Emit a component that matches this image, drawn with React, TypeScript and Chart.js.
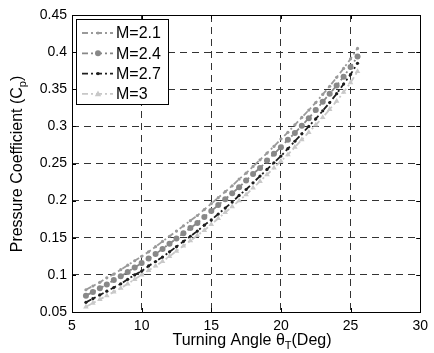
import React, { useEffect, useRef } from "react";
import { Chart, registerables } from "chart.js";

Chart.register(...registerables);

const angles = [6, 6.5, 7, 7.5, 8, 8.5, 9, 9.5, 10, 10.5, 11, 11.5, 12, 12.5, 13, 13.5, 14, 14.5, 15, 15.5, 16, 16.5, 17, 17.5, 18, 18.5, 19, 19.5, 20, 20.5, 21, 21.5, 22, 22.5, 23, 23.5, 24, 24.5, 25, 25.5];

const cpM21 = [0.080, 0.085, 0.090, 0.096, 0.101, 0.107, 0.113, 0.119, 0.125, 0.131, 0.138, 0.145, 0.152, 0.159, 0.166, 0.173, 0.180, 0.188, 0.196, 0.204, 0.212, 0.220, 0.229, 0.237, 0.246, 0.255, 0.264, 0.273, 0.283, 0.292, 0.302, 0.312, 0.322, 0.332, 0.343, 0.354, 0.366, 0.378, 0.391, 0.405];
const cpM24 = [0.072, 0.077, 0.082, 0.087, 0.093, 0.098, 0.104, 0.110, 0.116, 0.122, 0.128, 0.135, 0.142, 0.149, 0.156, 0.163, 0.170, 0.178, 0.186, 0.194, 0.202, 0.210, 0.218, 0.227, 0.236, 0.244, 0.254, 0.263, 0.272, 0.282, 0.291, 0.301, 0.311, 0.322, 0.333, 0.344, 0.355, 0.367, 0.380, 0.394];
const cpM27 = [0.063, 0.068, 0.073, 0.078, 0.083, 0.088, 0.094, 0.100, 0.105, 0.112, 0.118, 0.124, 0.131, 0.138, 0.145, 0.152, 0.159, 0.167, 0.174, 0.182, 0.190, 0.198, 0.207, 0.215, 0.224, 0.233, 0.242, 0.251, 0.260, 0.270, 0.280, 0.290, 0.300, 0.310, 0.321, 0.332, 0.344, 0.357, 0.370, 0.385];
const cpM30 = [0.057, 0.062, 0.067, 0.072, 0.077, 0.082, 0.088, 0.094, 0.100, 0.106, 0.112, 0.118, 0.125, 0.132, 0.139, 0.146, 0.153, 0.160, 0.168, 0.176, 0.184, 0.192, 0.200, 0.208, 0.217, 0.226, 0.235, 0.244, 0.253, 0.262, 0.272, 0.282, 0.292, 0.302, 0.312, 0.323, 0.334, 0.346, 0.359, 0.374];

const seriesLabels = ["M=2.1", "M=2.4", "M=2.7", "M=3"];
const xAxisRange = [5, 30];
const xStep = 5;
const yAxisRange = [0.05, 0.45];
const yStep = 0.05;

const FONT = '"Liberation Sans", Arial, sans-serif';

function drawMarker(ctx: CanvasRenderingContext2D, style: string, x: number, y: number, r: number, color: string) {
  ctx.save();
  ctx.fillStyle = color;
  ctx.setLineDash([]);
  ctx.beginPath();
  if (style === "triangle") {
    ctx.moveTo(x, y - r * 1.1);
    ctx.lineTo(x + r, y + r * 0.7);
    ctx.lineTo(x - r, y + r * 0.7);
    ctx.closePath();
  } else {
    ctx.arc(x, y, r, 0, Math.PI * 2);
  }
  ctx.fill();
  ctx.restore();
}

const framePlugin = {
  id: "matFrame",
  afterDatasetsDraw(chart: any) {
    const { ctx, chartArea } = chart;
    const { left, right, top, bottom } = chartArea;
    ctx.save();
    ctx.strokeStyle = "#000";
    ctx.lineWidth = 1;
    ctx.setLineDash([]);
    ctx.strokeRect(Math.round(left) + 0.5, Math.round(top) + 0.5, Math.round(right - left), Math.round(bottom - top));
    const xs = chart.scales.x;
    const ys = chart.scales.y;
    const tl = 4;
    ctx.beginPath();
    xs.ticks.forEach((t: any) => {
      const px = Math.round(xs.getPixelForValue(t.value)) + 0.5;
      ctx.moveTo(px, bottom);
      ctx.lineTo(px, bottom - tl);
      ctx.moveTo(px, top);
      ctx.lineTo(px, top + tl);
    });
    ys.ticks.forEach((t: any) => {
      const py = Math.round(ys.getPixelForValue(t.value)) + 0.5;
      ctx.moveTo(left, py);
      ctx.lineTo(left + tl, py);
      ctx.moveTo(right, py);
      ctx.lineTo(right - tl, py);
    });
    ctx.stroke();
    ctx.restore();
  },
};

const legendPlugin = {
  id: "matLegend",
  afterDraw(chart: any) {
    const ctx: CanvasRenderingContext2D = chart.ctx;
    const x0 = 76, y0 = 19, w = 92, h = 85;
    ctx.save();
    ctx.fillStyle = "#fff";
    ctx.fillRect(x0, y0, w, h);
    ctx.strokeStyle = "#000";
    ctx.lineWidth = 1;
    ctx.setLineDash([]);
    ctx.strokeRect(x0 + 0.5, y0 + 0.5, w, h);
    chart.data.datasets.forEach((ds: any, i: number) => {
      const cy = y0 + 14 + i * 20.3;
      ctx.save();
      ctx.setLineDash(ds.borderDash);
      ctx.strokeStyle = ds.borderColor;
      ctx.lineWidth = ds.borderWidth;
      ctx.beginPath();
      ctx.moveTo(x0 + 6, cy);
      ctx.lineTo(x0 + 37, cy);
      ctx.stroke();
      ctx.restore();
      drawMarker(ctx, ds.pointStyle, x0 + 22, cy, ds.pointRadius, ds.pointBackgroundColor);
      ctx.fillStyle = "#000";
      ctx.font = `16px ${FONT}`;
      ctx.textBaseline = "middle";
      ctx.textAlign = "left";
      ctx.fillText(ds.label, x0 + 40, cy + 1);
    });
    ctx.restore();
  },
};

function drawSubText(ctx: CanvasRenderingContext2D, parts: { t: string; sub?: boolean }[], cx: number, baseline: number, size: number) {
  const subSize = Math.round(size * 0.7);
  let total = 0;
  parts.forEach((p) => {
    ctx.font = `${p.sub ? subSize : size}px ${FONT}`;
    total += ctx.measureText(p.t).width;
  });
  let x = cx - total / 2;
  ctx.textAlign = "left";
  ctx.textBaseline = "alphabetic";
  parts.forEach((p) => {
    ctx.font = `${p.sub ? subSize : size}px ${FONT}`;
    ctx.fillText(p.t, x, baseline + (p.sub ? size * 0.28 : 0));
    x += ctx.measureText(p.t).width;
  });
}

const titlePlugin = {
  id: "matTitles",
  afterDraw(chart: any) {
    const ctx: CanvasRenderingContext2D = chart.ctx;
    ctx.save();
    ctx.fillStyle = "#000";
    drawSubText(ctx, [{ t: "Turning Angle \u03b8" }, { t: "T", sub: true }, { t: "(Deg)" }], 252, 345, 16);
    ctx.translate(22, 164);
    ctx.rotate(-Math.PI / 2);
    drawSubText(ctx, [{ t: "Pressure Coefficient (C" }, { t: "p", sub: true }, { t: ")" }], 0, 0, 16);
    ctx.restore();
  },
};

export default function App() {
  const ref = useRef<HTMLCanvasElement | null>(null);
  useEffect(() => {
    document.body.style.margin = "0";
    const canvas = ref.current;
    if (!canvas) return;
    const mk = (vals: number[]) => angles.map((a, i) => ({ x: a, y: vals[i] }));
    const dash = [6, 3, 2, 3];
    const chart = new Chart(canvas, {
      type: "line",
      data: {
        datasets: [
          {
            label: seriesLabels[0],
            data: mk(cpM21),
            borderColor: "#9a9a9a",
            backgroundColor: "#9a9a9a",
            pointBackgroundColor: "#9a9a9a",
            pointBorderWidth: 0,
            pointStyle: "circle",
            pointRadius: 1.6,
            borderWidth: 1.8,
            borderDash: dash,
          },
          {
            label: seriesLabels[1],
            data: mk(cpM24),
            borderColor: "#888888",
            backgroundColor: "#888888",
            pointBackgroundColor: "#888888",
            pointBorderWidth: 0,
            pointStyle: "circle",
            pointRadius: 3,
            borderWidth: 1.8,
            borderDash: dash,
          },
          {
            label: seriesLabels[2],
            data: mk(cpM27),
            borderColor: "#1e1e1e",
            backgroundColor: "#1e1e1e",
            pointBackgroundColor: "#1e1e1e",
            pointBorderWidth: 0,
            pointStyle: "circle",
            pointRadius: 1.6,
            borderWidth: 1.8,
            borderDash: dash,
          },
          {
            label: seriesLabels[3],
            data: mk(cpM30),
            borderColor: "#c8c8c8",
            backgroundColor: "#c8c8c8",
            pointBackgroundColor: "#c8c8c8",
            pointBorderWidth: 0,
            pointStyle: "triangle",
            pointRadius: 3.2,
            borderWidth: 1.8,
            borderDash: dash,
          },
        ],
      },
      options: {
        responsive: false,
        animation: false,
        events: [],
        layout: { padding: { top: 15, right: 8, left: 0, bottom: 0 } },
        plugins: { legend: { display: false }, tooltip: { enabled: false }, title: { display: false } },
        scales: {
          x: {
            type: "linear",
            min: xAxisRange[0],
            max: xAxisRange[1],
            ticks: { stepSize: xStep, color: "#000", font: { family: FONT, size: 14 }, padding: 6, maxRotation: 0, autoSkip: false },
            grid: { color: "#333", lineWidth: 1, drawTicks: false },
            border: { display: false, dash: [7, 5] },
            afterFit: (s: any) => { s.height = 41; },
          },
          y: {
            type: "linear",
            min: yAxisRange[0],
            max: yAxisRange[1],
            ticks: {
              stepSize: yStep,
              color: "#000",
              font: { family: FONT, size: 14 },
              padding: 5,
              autoSkip: false,
              callback: (v: any) => Number(v).toFixed(2).replace(/0$/, ""),
            },
            grid: { color: "#333", lineWidth: 1, drawTicks: false },
            border: { display: false, dash: [7, 5] },
            afterFit: (s: any) => { s.width = 72; },
          },
        },
      },
      plugins: [framePlugin, legendPlugin, titlePlugin],
    } as any);
    return () => chart.destroy();
  }, []);
  return (
    <div style={{ width: 434, height: 353, background: "#fff" }}>
      <canvas ref={ref} width={434} height={353} style={{ display: "block" }} />
    </div>
  );
}
